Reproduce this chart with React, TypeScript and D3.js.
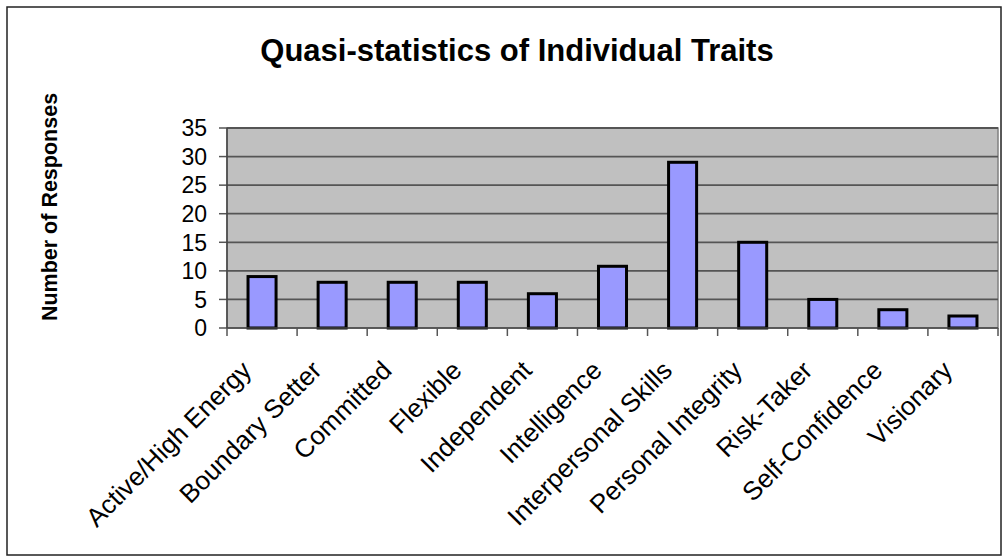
import React from "react";
import * as d3 from "d3";

const categories = [
  "Active/High Energy",
  "Boundary Setter",
  "Committed",
  "Flexible",
  "Independent",
  "Intelligence",
  "Interpersonal Skills",
  "Personal Integrity",
  "Risk-Taker",
  "Self-Confidence",
  "Visionary",
];
const responses = [9, 8, 8, 8, 6, 10.8, 29, 15, 5, 3.2, 2.1];
const yTicks = [0, 5, 10, 15, 20, 25, 30, 35];
const title = "Quasi-statistics of Individual Traits";
const yTitle = "Number of Responses";

const W = 1006;
const H = 557;
const plot = { left: 227, right: 998, top: 128, bottom: 328 };

export default function App() {
  const x = d3
    .scaleBand<string>()
    .domain(categories)
    .range([plot.left, plot.right])
    .paddingInner(0.6)
    .paddingOuter(0.3);
  const xb = d3.scaleBand<string>().domain(categories).range([plot.left, plot.right]);
  const y = d3.scaleLinear().domain([0, 35]).range([plot.bottom, plot.top]);
  const font = "Arial, 'Liberation Sans', sans-serif";

  const boundaries = d3.range(categories.length + 1).map((i) =>
    i < categories.length ? (xb(categories[i]) as number) : plot.right
  );

  return (
    <svg
      width={W}
      height={H}
      style={{ position: "absolute", left: 0, top: 0 }}
      fontFamily={font}
    >
      <rect x={0} y={0} width={W} height={H} fill="#fff" />
      <rect x={7} y={7} width={994} height={548} fill="#fff" stroke="#222" strokeWidth={1.5} />
      <text x={517} y={61} textAnchor="middle" fontSize={31} fontWeight="bold" fill="#000">
        {title}
      </text>
      <text
        transform={`translate(57,207) rotate(-90)`}
        textAnchor="middle"
        fontSize={21.5}
        fontWeight="bold"
        fill="#000"
      >
        {yTitle}
      </text>
      <rect
        x={plot.left}
        y={plot.top}
        width={plot.right - plot.left}
        height={plot.bottom - plot.top}
        fill="#C0C0C0"
        stroke="#808080"
        strokeWidth={1.5}
      />
      {yTicks.map((t) => (
        <g key={t}>
          {t > 0 && (
            <line x1={plot.left} x2={plot.right} y1={y(t)} y2={y(t)} stroke="#555" strokeWidth={1.8} />
          )}
          <line x1={plot.left - 8} x2={plot.left} y1={y(t)} y2={y(t)} stroke="#555" strokeWidth={1.5} />
          <text x={207} y={y(t)} dy="0.36em" textAnchor="end" fontSize={23} fill="#000">
            {t}
          </text>
        </g>
      ))}
      {responses.map((v, i) => (
        <rect
          key={categories[i]}
          x={x(categories[i])}
          y={y(v)}
          width={x.bandwidth()}
          height={y(0) - y(v)}
          fill="#9999FF"
          stroke="#000"
          strokeWidth={3}
        />
      ))}
      <line x1={plot.left} x2={plot.left} y1={plot.top} y2={plot.bottom} stroke="#444" strokeWidth={1.5} />
      <line x1={plot.left} x2={plot.right} y1={plot.bottom} y2={plot.bottom} stroke="#444" strokeWidth={1.5} />
      {boundaries.map((b, i) => (
        <line key={i} x1={b} x2={b} y1={plot.bottom} y2={plot.bottom + 8} stroke="#555" strokeWidth={1.5} />
      ))}
      {categories.map((c) => {
        const cx = (xb(c) as number) + xb.bandwidth() / 2;
        return (
          <text
            key={c}
            transform={`translate(${cx - 9},${372}) rotate(-45)`}
            textAnchor="end"
            fontSize={26}
            fill="#000"
          >
            {c}
          </text>
        );
      })}
    </svg>
  );
}
